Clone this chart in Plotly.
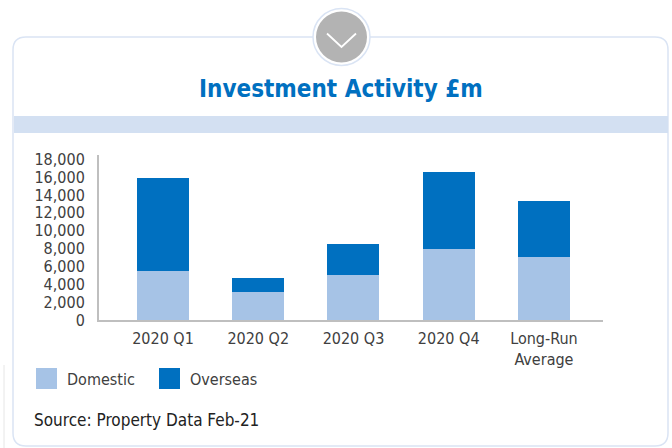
import plotly.graph_objects as go

W, H = 672, 448

categories = ["2020 Q1", "2020 Q2", "2020 Q3", "2020 Q4", "Long-Run<br>Average"]
domestic = [5500, 3100, 5000, 7950, 7050]
overseas = [10400, 1600, 3500, 8650, 6250]
series_names = ["Domestic", "Overseas"]
series_colors = ["#a6c3e6", "#0070c0"]

FONT = "DejaVu Sans Condensed"
BORDER = "#dae4f4"


def fx(x):
    return x / W


def fy(y):
    return 1 - y / H


def rounded_rect(x0, y0, x1, y1, r):
    # card outline with rounded corners, pixel coords -> paper
    pts = [
        ("M", fx(x0 + r), fy(y0)),
        ("L", fx(x1 - r), fy(y0)),
        ("Q", fx(x1), fy(y0), fx(x1), fy(y0 + r)),
        ("L", fx(x1), fy(y1 - r)),
        ("Q", fx(x1), fy(y1), fx(x1 - r), fy(y1)),
        ("L", fx(x0 + r), fy(y1)),
        ("Q", fx(x0), fy(y1), fx(x0), fy(y1 - r)),
        ("L", fx(x0), fy(y0 + r)),
        ("Q", fx(x0), fy(y0), fx(x0 + r), fy(y0)),
    ]
    out = ""
    for p in pts:
        out += p[0] + " " + " ".join(f"{v:.5f}" for v in p[1:]) + " "
    return out + "Z"


fig = go.Figure()
for name, vals, col in zip(series_names, [domestic, overseas], series_colors):
    fig.add_trace(
        go.Bar(
            x=categories,
            y=vals,
            name=name,
            marker=dict(color=col, line=dict(width=0)),
            width=0.546,
            showlegend=False,
            hoverinfo="skip",
        )
    )

shapes = [
    # card
    dict(type="path", xref="paper", yref="paper", path=rounded_rect(13, 37, 668, 446, 13),
         line=dict(color=BORDER, width=1.5), fillcolor="white", layer="below"),
    # header band
    dict(type="rect", xref="paper", yref="paper", x0=fx(14), x1=fx(668), y0=fy(133), y1=fy(116),
         line=dict(width=0), fillcolor="#d3e0f2", layer="below"),
    # faint line bottom-left
    dict(type="line", xref="paper", yref="paper", x0=fx(4), x1=fx(4), y0=fy(365), y1=fy(448),
         line=dict(color="#e6e6e6", width=1), layer="below"),
    # circle badge
    dict(type="circle", xref="paper", yref="paper", x0=fx(313), x1=fx(370), y0=fy(65.5), y1=fy(8.5),
         line=dict(color=BORDER, width=1.5), fillcolor="white"),
    dict(type="circle", xref="paper", yref="paper", x0=fx(316), x1=fx(367), y0=fy(62.5), y1=fy(11.5),
         line=dict(width=0), fillcolor="#b3b3b3"),
    dict(type="path", xref="paper", yref="paper",
         path=f"M {fx(327):.5f} {fy(33.5):.5f} L {fx(341.5):.5f} {fy(47):.5f} L {fx(356):.5f} {fy(33.5):.5f}",
         line=dict(color="white", width=1.8)),
]

annotations = [
    dict(text="<b>Investment Activity £m</b>", x=fx(341), y=fy(89), xref="paper", yref="paper",
         yanchor="middle", showarrow=False, font=dict(family=FONT, size=24, color="#0070c0")),
    dict(text="Source: Property Data Feb-21", x=fx(32), y=fy(420), xref="paper", yref="paper",
         xanchor="left", yanchor="middle", showarrow=False,
         font=dict(family=FONT, size=17, color="#222222")),
]

# legend, drawn by hand for the larger swatches
leg_x = [36, 159]
for name, col, lx in zip(series_names, series_colors, leg_x):
    shapes.append(dict(type="rect", xref="paper", yref="paper", x0=fx(lx), x1=fx(lx + 21),
                       y0=fy(389), y1=fy(368), line=dict(width=0), fillcolor=col))
    annotations.append(dict(text=name, x=fx(lx + 29), y=fy(379), xref="paper", yref="paper",
                            xanchor="left", yanchor="middle", showarrow=False,
                            font=dict(family=FONT, size=16, color="#404040")))

fig.update_layout(
    template="none",
    width=W,
    height=H,
    margin=dict(l=0, r=0, t=0, b=0),
    barmode="stack",
    paper_bgcolor="white",
    plot_bgcolor="rgba(0,0,0,0)",
    showlegend=False,
    shapes=shapes,
    annotations=annotations,
    font=dict(family=FONT, size=16, color="#404040"),
    xaxis=dict(
        domain=[fx(99), fx(603)],
        range=[-0.672, 4.62],
        showline=True,
        linecolor="#bfbfbf",
        linewidth=2,
        showgrid=False,
        zeroline=False,
        ticks="outside",
        ticklen=3,
        tickcolor="rgba(0,0,0,0)",
        automargin=False,
        tickfont=dict(family=FONT, size=16, color="#404040"),
    ),
    yaxis=dict(
        domain=[fy(320), fy(155)],
        range=[0, 18480],
        dtick=2000,
        tick0=0,
        tickformat=",",
        showline=True,
        linecolor="#bfbfbf",
        linewidth=2,
        showgrid=False,
        zeroline=False,
        ticks="outside",
        ticklen=9,
        tickcolor="rgba(0,0,0,0)",
        automargin=False,
        tickfont=dict(family=FONT, size=16, color="#404040"),
    ),
)

# drop the default page margin so the figure sits at the window origin
fig.write_html(
    "out.html",
    config={"displayModeBar": False},
    post_script="document.body.style.margin='0px';",
)
